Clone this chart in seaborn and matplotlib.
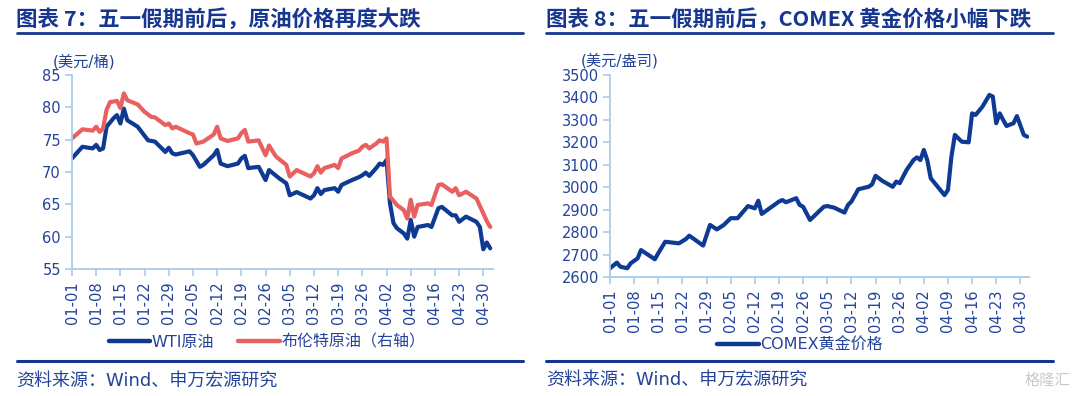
import matplotlib
matplotlib.use("Agg")
import matplotlib.pyplot as plt
from matplotlib.lines import Line2D
import matplotlib.dates as mdates
import seaborn as sns
import pandas as pd

YEAR = 2025

# ---------------- data: left chart (crude oil, USD/bbl) ----------------
wti_dates = ["01-01", "01-04", "01-07", "01-08", "01-09", "01-10", "01-11", "01-13", "01-14", "01-15",
             "01-16", "01-17", "01-20", "01-23", "01-25", "01-28", "01-29", "01-30", "01-31", "02-04",
             "02-05", "02-07", "02-08", "02-11", "02-12", "02-13", "02-15", "02-18", "02-19", "02-20",
             "02-21", "02-24", "02-26", "02-27", "03-02", "03-04", "03-05", "03-07", "03-09", "03-11",
             "03-12", "03-13", "03-14", "03-15", "03-18", "03-19", "03-20", "03-23", "03-25", "03-26",
             "03-27", "03-28", "03-30", "03-31", "04-01", "04-02", "04-03", "04-04", "04-05", "04-07",
             "04-08", "04-09", "04-10", "04-11", "04-14", "04-15", "04-17", "04-18", "04-21", "04-22",
             "04-23", "04-25", "04-28", "04-29", "04-30", "05-01", "05-02"]
wti_values = [72.1, 73.9, 73.65, 74.2, 73.4, 73.65, 77.0, 78.3, 78.8, 77.5,
              79.8, 78.0, 77.0, 74.9, 74.7, 73.1, 73.75, 72.9, 72.7, 73.2,
              72.6, 70.8, 71.1, 72.6, 73.4, 71.3, 70.9, 71.3, 72.1, 72.5,
              70.6, 70.8, 68.75, 70.3, 69.0, 68.25, 66.4, 66.9, 66.4, 65.9,
              66.4, 67.5, 66.6, 67.2, 67.5, 66.95, 68.0, 68.75, 69.2, 69.5,
              69.9, 69.4, 70.6, 71.3, 71.1, 71.85, 65.15, 62.1, 61.3, 60.5,
              59.7, 62.6, 60.0, 61.5, 61.8, 61.5, 64.4, 64.6, 63.3, 63.3,
              62.3, 63.1, 62.3, 61.5, 58.05, 59.1, 58.2]

brent_dates = ["01-01", "01-04", "01-07", "01-08", "01-09", "01-10", "01-11", "01-12", "01-14", "01-15",
               "01-16", "01-17", "01-20", "01-22", "01-24", "01-25", "01-28", "01-29", "01-30", "01-31",
               "02-04", "02-05", "02-06", "02-08", "02-11", "02-12", "02-13", "02-15", "02-18", "02-19",
               "02-20", "02-21", "02-24", "02-26", "02-27", "03-01", "03-04", "03-05", "03-07", "03-09",
               "03-11", "03-12", "03-13", "03-14", "03-15", "03-18", "03-19", "03-20", "03-23", "03-25",
               "03-26", "03-27", "03-28", "03-30", "03-31", "04-01", "04-02", "04-03", "04-05", "04-07",
               "04-08", "04-09", "04-10", "04-11", "04-14", "04-15", "04-17", "04-18", "04-21", "04-22",
               "04-23", "04-25", "04-28", "04-30", "05-01", "05-02"]
brent_values = [75.2, 76.6, 76.4, 77.0, 76.2, 76.75, 79.6, 80.8, 81.0, 79.9,
                82.15, 81.1, 80.45, 79.3, 78.5, 78.45, 77.25, 77.5, 76.75, 77.0,
                76.0, 75.8, 74.4, 74.7, 75.8, 77.0, 75.2, 74.8, 75.2, 76.0,
                76.5, 74.7, 74.9, 72.6, 74.1, 72.4, 71.1, 69.3, 70.3, 69.8,
                69.3, 69.8, 70.9, 69.9, 70.6, 71.1, 70.6, 72.1, 72.9, 73.3,
                73.9, 74.2, 73.65, 74.4, 74.9, 74.7, 75.2, 66.2, 64.9, 64.1,
                62.8, 65.7, 63.1, 64.9, 65.15, 64.9, 68.0, 68.1, 66.95, 67.5,
                66.4, 66.95, 65.9, 63.6, 62.4, 61.5]

# ---------------- data: right chart (COMEX gold, USD/oz) ----------------
gold_dates = ["01-01", "01-03", "01-04", "01-06", "01-07", "01-09", "01-10", "01-14", "01-15", "01-17",
              "01-21", "01-23", "01-24", "01-28", "01-30", "02-01", "02-03", "02-05", "02-07", "02-10",
              "02-12", "02-13", "02-14", "02-19", "02-20", "02-21", "02-24", "02-25", "02-26", "02-28",
              "03-04", "03-05", "03-07", "03-10", "03-11", "03-12", "03-14", "03-17", "03-18", "03-19",
              "03-21", "03-24", "03-25", "03-26", "03-28", "03-30", "03-31", "04-01", "04-02", "04-03",
              "04-04", "04-08", "04-09", "04-10", "04-11", "04-13", "04-15", "04-16", "04-17", "04-19",
              "04-21", "04-22", "04-23", "04-24", "04-25", "04-26", "04-28", "04-29", "05-01", "05-02"]
gold_values = [2639, 2664, 2646, 2639, 2661, 2683, 2720, 2679, 2706, 2757,
               2750, 2769, 2784, 2740, 2832, 2812, 2832, 2862, 2862, 2916,
               2906, 2940, 2881, 2936, 2943, 2933, 2951, 2921, 2913, 2854,
               2913, 2916, 2909, 2887, 2921, 2936, 2991, 3002, 3013, 3051,
               3028, 3002, 3025, 3018, 3077, 3121, 3133, 3121, 3166, 3121,
               3040, 2965, 2988, 3136, 3233, 3203, 3200, 3329, 3322, 3359,
               3411, 3404, 3285, 3329, 3300, 3273, 3285, 3317, 3233, 3225]

tick_days = ["01-01", "01-08", "01-15", "01-22", "01-29", "02-05", "02-12", "02-19", "02-26",
             "03-05", "03-12", "03-19", "03-26", "04-02", "04-09", "04-16", "04-23", "04-30"]

title_left = "图表 7：五一假期前后，原油价格再度大跌"
title_right = "图表 8：五一假期前后，COMEX 黄金价格小幅下跌"
unit_left = "(美元/桶)"
unit_right = "(美元/盎司)"
legend_wti = "WTI原油"
legend_brent = "布伦特原油（右轴）"
legend_gold = "COMEX黄金价格"
source = "资料来源：Wind、申万宏源研究"


def to_dt(md):
    return pd.to_datetime([f"{YEAR}-{d}" for d in md])


# ---------------- style ----------------
sns.set_theme(style="white")
plt.rcParams['font.family'] = ['DejaVu Sans', 'Noto Sans CJK SC']

NAVY = "#0E3A94"
RED = "#E8605F"
TXT = "#24449A"
TITLE = "#163690"
SPINE = "#A9CBEA"

W, H = 1080, 396
fig = plt.figure(figsize=(W / 100, H / 100), dpi=100)


def fx(px):
    return px / W


def fy(py):
    return 1 - py / H


ax1 = fig.add_axes([fx(72), fy(269), fx(421), 194 / H])
ax2 = fig.add_axes([fx(610), fy(277), fx(419), 202 / H])

wti_df = pd.DataFrame({"date": to_dt(wti_dates), "value": wti_values})
brent_df = pd.DataFrame({"date": to_dt(brent_dates), "value": brent_values})
gold_df = pd.DataFrame({"date": to_dt(gold_dates), "value": gold_values})

sns.lineplot(data=wti_df, x="date", y="value", ax=ax1, color=NAVY, linewidth=3.0, label=legend_wti)
sns.lineplot(data=brent_df, x="date", y="value", ax=ax1, color=RED, linewidth=3.0, label=legend_brent)
sns.lineplot(data=gold_df, x="date", y="value", ax=ax2, color=NAVY, linewidth=3.0, label=legend_gold)

start = pd.Timestamp(f"{YEAR}-01-01")
ax1.set_xlim(start, start + pd.Timedelta(days=121.8))
ax2.set_xlim(start, start + pd.Timedelta(days=121.5))
ax1.set_ylim(55, 85)
ax1.set_yticks(range(55, 86, 5))
ax2.set_ylim(2600, 3500)
ax2.set_yticks(range(2600, 3501, 100))

for ax in (ax1, ax2):
    ax.set_xticks(to_dt(tick_days))
    ax.xaxis.set_major_formatter(mdates.DateFormatter("%m-%d"))
    ax.set_xlabel("")
    ax.set_ylabel("")
    for s in ("top", "right"):
        ax.spines[s].set_visible(False)
    for s in ("left", "bottom"):
        ax.spines[s].set_color(SPINE)
        ax.spines[s].set_linewidth(1.3)
    ax.tick_params(axis="both", which="major", bottom=True, left=True, direction="out",
                   length=5, width=1.2, color=SPINE, labelcolor=TXT, labelsize=10.5, pad=3)
    ax.tick_params(axis="x", labelrotation=90, pad=4)
    ax.patch.set_alpha(0)
    leg = ax.get_legend()
    if leg is not None:
        leg.remove()

# legends
h1 = [Line2D([], [], color=NAVY, lw=3.2), Line2D([], [], color=RED, lw=3.2)]
fig.legend(h1, [legend_wti, legend_brent], loc="center", bbox_to_anchor=(fx(267), fy(342)),
           ncol=2, frameon=False, fontsize=11.5, handlelength=2.6, handletextpad=0.1,
           columnspacing=1.5, labelcolor=TXT, borderaxespad=0, borderpad=0)
h2 = [Line2D([], [], color=NAVY, lw=3.2)]
fig.legend(h2, [legend_gold], loc="center", bbox_to_anchor=(fx(800), fy(345)),
           ncol=1, frameon=False, fontsize=11.5, handlelength=2.6, handletextpad=0.1,
           labelcolor=TXT, borderaxespad=0, borderpad=0)

# titles & rules
tfam = ['Noto Sans CJK SC', 'DejaVu Sans']
fig.text(fx(16.5), fy(19), title_left, fontsize=15.5, fontweight="bold", color=TITLE,
         ha="left", va="center", family=tfam)
fig.text(fx(546), fy(19), title_right, fontsize=15.5, fontweight="bold", color=TITLE,
         ha="left", va="center", family=tfam)
for x0, x1 in ((16.5, 523), (546, 1053)):
    fig.add_artist(Line2D([fx(x0), fx(x1)], [fy(33.4)] * 2, color=TITLE, lw=2.0))
    fig.add_artist(Line2D([fx(x0), fx(x1)], [fy(360.5)] * 2, color=TITLE, lw=2.2))

# unit labels
fig.text(fx(53), fy(61.5), unit_left, fontsize=11, color=TXT, ha="left", va="center")
fig.text(fx(581), fy(61), unit_right, fontsize=11, color=TXT, ha="left", va="center")

# sources
fig.text(fx(16.5), fy(381), source, fontsize=13, color=TXT, ha="left", va="center")
fig.text(fx(546), fy(380), source, fontsize=13, color=TXT, ha="left", va="center")

# watermark
fig.text(fx(1025), fy(380), "格隆汇", fontsize=11, color="#C9C9C9", ha="left", va="center",
         family=['Noto Sans CJK SC'])

fig.savefig("out.png", dpi=100)
